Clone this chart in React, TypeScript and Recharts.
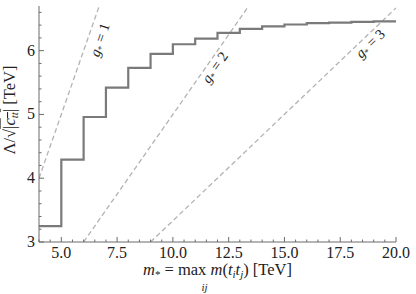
import React from 'react';
import { ComposedChart, Line, XAxis, YAxis, ReferenceDot } from 'recharts';

// step limit on Lambda/sqrt(|c_tt|) vs resonance mass
const massPoints = [4, 5, 6, 7, 8, 9, 10, 11, 12, 13, 14, 15, 16, 17, 18, 19, 20];
const lambdaLimit = [3.25, 4.29, 4.96, 5.42, 5.73, 5.95, 6.1, 6.19, 6.28, 6.34, 6.38, 6.41, 6.43, 6.44, 6.45, 6.46, 6.46];

// dashed perturbativity guides (end points)
const guideCouplings = [1, 2, 3];
const guideMass = [[4, 6.7], [6, 13.4], [9, 20]];
const guideLambda = [[4, 6.7], [3, 6.7], [3, 6.67]];

// where the g* labels sit along the guides
const labelMass = [6.8, 11.95, 18.9];
const labelLambda = [6.16, 5.72, 6.09];
const labelAngle = [-71, -55, -44];

const xMajor = [5, 7.5, 10, 12.5, 15, 17.5, 20];
const yMajor = [3, 4, 5, 6];
const xTicks = Array.from({ length: 33 }, (_, i) => 4 + i * 0.5);
const yTicks = Array.from({ length: 19 }, (_, i) => +(3 + i * 0.2).toFixed(1));

const limitData = massPoints.map((m, i) => ({ m, v: lambdaLimit[i] }));
const guides = guideCouplings.map((g, i) => ({
  g,
  data: guideMass[i].map((m, j) => ({ m, v: guideLambda[i][j] })),
}));

const FRAME = '#6b6b6b';
const serif = { fontFamily: "'Liberation Serif', 'Times New Roman', serif" };

const isMajor = (list: number[], v: number) => list.some((t) => Math.abs(t - v) < 1e-6);

const XTick = ({ x, y, payload, side }: any) => {
  const major = isMajor(xMajor, payload.value);
  const len = major ? 5 : 2.5;
  const dir = side === 'bottom' ? -1 : 1;
  return (
    <g>
      <line x1={x} x2={x} y1={y} y2={y + dir * len} stroke={FRAME} strokeWidth={1} />
      {side === 'bottom' && major && (
        <text x={x} y={y + 16} textAnchor="middle" fontSize={16} style={serif} fill="#222">
          {payload.value.toFixed(1)}
        </text>
      )}
    </g>
  );
};

const YTick = ({ x, y, payload, side }: any) => {
  const major = isMajor(yMajor, payload.value);
  const len = major ? 5 : 2.5;
  const dir = side === 'left' ? 1 : -1;
  return (
    <g>
      <line x1={x} x2={x + dir * len} y1={y} y2={y} stroke={FRAME} strokeWidth={1} />
      {side === 'left' && major && (
        <text x={x - 4} y={y + 5} textAnchor="end" fontSize={16} style={serif} fill="#222">
          {payload.value}
        </text>
      )}
    </g>
  );
};

const XLabel = ({ viewBox }: any) => {
  const cx = viewBox.x + viewBox.width / 2;
  const y = viewBox.y + 33;
  return (
    <g>
      <text x={cx} y={y} textAnchor="middle" fontSize={16.5} style={serif} fill="#222">
        <tspan fontStyle="italic">m</tspan>
        <tspan fontSize={11} dy={3}>*</tspan>
        <tspan dy={-3}> = max </tspan>
        <tspan fontStyle="italic">m</tspan>
        <tspan>(</tspan>
        <tspan fontStyle="italic">t</tspan>
        <tspan fontStyle="italic" fontSize={11} dy={3}>i</tspan>
        <tspan fontStyle="italic" dy={-3}>t</tspan>
        <tspan fontStyle="italic" fontSize={11} dy={3}>j</tspan>
        <tspan dy={-3}>) [TeV]</tspan>
      </text>
      <text x={cx - 13} y={viewBox.y + 49} textAnchor="middle" fontSize={11} fontStyle="italic" style={serif} fill="#222">
        ij
      </text>
    </g>
  );
};

const YLabel = ({ viewBox }: any) => {
  const cx = viewBox.x + 15;
  const cy = viewBox.y + viewBox.height / 2 - 14;
  return (
    <text x={cx} y={cy} textAnchor="middle" fontSize={16.5} style={serif} fill="#222" transform={`rotate(-90, ${cx}, ${cy})`}>
      <tspan>Λ/√</tspan>
      <tspan style={{ textDecoration: 'overline' }}>|</tspan>
      <tspan fontStyle="italic" style={{ textDecoration: 'overline' }}>c</tspan>
      <tspan fontStyle="italic" fontSize={11} dy={3} style={{ textDecoration: 'overline' }}>tt</tspan>
      <tspan dy={-3} style={{ textDecoration: 'overline' }}>|</tspan>
      <tspan> [TeV]</tspan>
    </text>
  );
};

const GuideLabel = ({ cx, cy, angle, g }: any) => (
  <text x={cx} y={cy} textAnchor="middle" dominantBaseline="middle" fontSize={14.5} style={serif} fill="#222" transform={`rotate(${angle}, ${cx}, ${cy})`}>
    <tspan fontStyle="italic">g</tspan>
    <tspan fontSize={9} dy={3}>*</tspan>
    <tspan dy={-3}> = {g}</tspan>
  </text>
);

export default function App() {
  return (
    <div style={{ position: 'absolute', left: 0, top: 0, width: 416, height: 294, background: '#fff' }}>
      <ComposedChart width={416} height={294} margin={{ top: 6, right: 20, left: 0, bottom: 0 }}>
        <XAxis
          xAxisId="b"
          type="number"
          dataKey="m"
          domain={[4, 20]}
          ticks={xTicks}
          interval={0}
          allowDataOverflow
          height={52}
          stroke={FRAME}
          tickSize={0}
          tickMargin={0}
          tickLine={false}
          tick={<XTick side="bottom" />}
          label={<XLabel />}
        />
        <XAxis
          xAxisId="t"
          orientation="top"
          type="number"
          dataKey="m"
          domain={[4, 20]}
          ticks={xTicks}
          interval={0}
          height={0}
          stroke={FRAME}
          tickSize={0}
          tickMargin={0}
          tickLine={false}
          tick={<XTick side="top" />}
        />
        <YAxis
          yAxisId="l"
          type="number"
          domain={[3, 6.7]}
          ticks={yTicks}
          interval={0}
          allowDataOverflow
          width={39}
          stroke={FRAME}
          tickSize={0}
          tickMargin={0}
          tickLine={false}
          tick={<YTick side="left" />}
          label={<YLabel />}
        />
        <YAxis
          yAxisId="r"
          orientation="right"
          type="number"
          domain={[3, 6.7]}
          ticks={yTicks}
          interval={0}
          width={0}
          stroke={FRAME}
          tickSize={0}
          tickMargin={0}
          tickLine={false}
          tick={<YTick side="right" />}
        />
        {guides.map((gd) => (
          <Line
            key={gd.g}
            xAxisId="b"
            yAxisId="l"
            data={gd.data}
            dataKey="v"
            type="linear"
            stroke="#b3b3b3"
            strokeWidth={1.3}
            strokeDasharray="5 3"
            dot={false}
            activeDot={false}
            isAnimationActive={false}
          />
        ))}
        <Line
          xAxisId="b"
          yAxisId="l"
          data={limitData}
          dataKey="v"
          type="stepAfter"
          stroke="#7a7a7a"
          strokeWidth={2.2}
          dot={false}
          activeDot={false}
          isAnimationActive={false}
        />
        {guideCouplings.map((g, i) => (
          <ReferenceDot
            key={`lab${g}`}
            xAxisId="b"
            yAxisId="l"
            x={labelMass[i]}
            y={labelLambda[i]}
            r={0}
            shape={(p: any) => <GuideLabel cx={p.cx} cy={p.cy} angle={labelAngle[i]} g={g} />}
          />
        ))}
      </ComposedChart>
    </div>
  );
}
